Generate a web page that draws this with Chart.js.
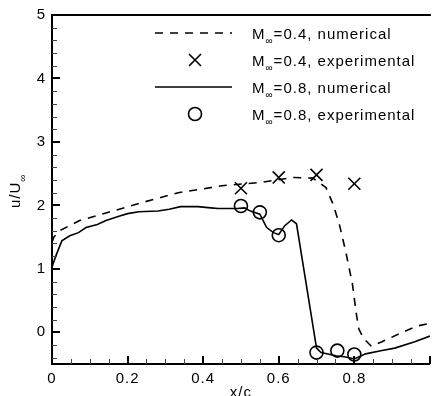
<!DOCTYPE html>
<html><head><meta charset="utf-8">
<script src="https://cdn.jsdelivr.net/npm/chart.js@4"></script>
<style>
html,body{margin:0;padding:0;overflow:hidden;background:#fff;width:432px;height:396px}
#wrap{width:440px;height:396px}
canvas{display:block}
</style></head>
<body><div id="wrap"><canvas id="c" width="440" height="396"></canvas></div>
<script>
// ---- data ----
const num04X = [0, 0.005, 0.02, 0.073, 0.143, 0.23, 0.334, 0.40, 0.45, 0.55, 0.64, 0.69, 0.725, 0.743, 0.76, 0.777, 0.795, 0.805, 0.812, 0.825, 0.845, 0.873, 0.924, 0.967, 1.0];
const num04Y = [1.42, 1.50, 1.60, 1.76, 1.88, 2.03, 2.20, 2.26, 2.31, 2.36, 2.44, 2.43, 2.28, 2.03, 1.71, 1.28, 0.76, 0.30, 0.05, -0.10, -0.22, -0.15, -0.01, 0.10, 0.14];

const num08X = [0, 0.01, 0.026, 0.047, 0.07, 0.09, 0.12, 0.143, 0.177, 0.20, 0.23, 0.28, 0.31, 0.34, 0.386, 0.42, 0.44, 0.49, 0.51, 0.525, 0.55, 0.568, 0.586, 0.60, 0.616, 0.634, 0.647, 0.70, 0.712, 0.751, 0.777, 0.80, 0.83, 0.87, 0.907, 0.96, 1.0];
const num08Y = [1.03, 1.20, 1.44, 1.52, 1.57, 1.65, 1.70, 1.76, 1.83, 1.87, 1.90, 1.91, 1.94, 1.98, 1.98, 1.96, 1.95, 1.95, 1.96, 1.91, 1.86, 1.65, 1.57, 1.54, 1.68, 1.77, 1.71, -0.25, -0.32, -0.37, -0.39, -0.42, -0.34, -0.29, -0.25, -0.15, -0.06];

const exp04X = [0.5, 0.6, 0.7, 0.8];
const exp04Y = [2.27, 2.44, 2.48, 2.34];

const exp08X = [0.5, 0.55, 0.6, 0.7, 0.755, 0.8];
const exp08Y = [1.99, 1.89, 1.53, -0.32, -0.29, -0.35];

const xMajorTicks = [0, 0.2, 0.4, 0.6, 0.8, 1.0];
const xTickLabels = ['0', '0.2', '0.4', '0.6', '0.8', ''];
const xMinorTicks = [0.05, 0.1, 0.15, 0.25, 0.3, 0.35, 0.45, 0.5, 0.55, 0.65, 0.7, 0.75, 0.85, 0.9, 0.95];
const yMajorTicks = [0, 1, 2, 3, 4, 5];
const yTickLabels = ['0', '1', '2', '3', '4', '5'];
const yMinorTicks = [-0.4, -0.2, 0.2, 0.4, 0.6, 0.8, 1.2, 1.4, 1.6, 1.8, 2.2, 2.4, 2.6, 2.8, 3.2, 3.4, 3.6, 3.8, 4.2, 4.4, 4.6, 4.8];

const legendLabels = ['=0.4, numerical', '=0.4, experimental', '=0.8, numerical', '=0.8, experimental'];
const xTitle = 'x/c';
const yTitle = 'u/U';

const FONT = '"Liberation Sans", Arial, Helvetica, sans-serif';
const pts = (xs, ys) => xs.map((x, i) => ({x: x, y: ys[i]}));

const decor = {
  id: 'decor',
  beforeDraw(chart) { chart.ctx.letterSpacing = '1px'; },
  afterDraw(chart) {
    const ctx = chart.ctx, a = chart.chartArea;
    const xs = chart.scales.x, ys = chart.scales.y;
    ctx.save();
    ctx.strokeStyle = '#000';
    ctx.fillStyle = '#000';
    // top frame
    ctx.lineWidth = 2;
    ctx.beginPath(); ctx.moveTo(a.left - 1, a.top); ctx.lineTo(a.right + 1, a.top); ctx.stroke();
    // major ticks (inward)
    ctx.lineWidth = 2;
    xMajorTicks.forEach(v => { const p = Math.round(xs.getPixelForValue(v)); ctx.beginPath(); ctx.moveTo(p, a.bottom); ctx.lineTo(p, a.bottom - 8); ctx.stroke(); });
    yMajorTicks.forEach(v => { const p = Math.round(ys.getPixelForValue(v)); ctx.beginPath(); ctx.moveTo(a.left, p); ctx.lineTo(a.left + 8, p); ctx.stroke(); });
    ctx.lineWidth = 1;
    ctx.strokeStyle = '#444';
    xMinorTicks.forEach(v => { const p = Math.round(xs.getPixelForValue(v)) + 0.5; ctx.beginPath(); ctx.moveTo(p, a.bottom); ctx.lineTo(p, a.bottom - 5); ctx.stroke(); });
    yMinorTicks.forEach(v => { const p = Math.round(ys.getPixelForValue(v)) + 0.5; ctx.beginPath(); ctx.moveTo(a.left, p); ctx.lineTo(a.left + 5, p); ctx.stroke(); });

    // axis titles
    ctx.fillStyle = '#000';
    ctx.font = '15px ' + FONT;
    ctx.textAlign = 'center'; ctx.textBaseline = 'alphabetic';
    ctx.fillText(xTitle, (a.left + a.right) / 2, 397);

    ctx.save();
    ctx.translate(19.5, 208);
    ctx.rotate(-Math.PI / 2);
    ctx.textAlign = 'left';
    ctx.font = '15px ' + FONT;
    ctx.fillText(yTitle, 0, 0);
    const w = ctx.measureText(yTitle).width;
    ctx.font = '10px ' + FONT;
    ctx.letterSpacing = '0px';
    ctx.fillText('\u221E', w, 6);
    ctx.restore();

    // legend
    const rows = [33, 60, 87, 114];
    const symL = 155, symR = 232, symC = 195, textX = 252;
    ctx.lineWidth = 1.6; ctx.strokeStyle = '#000';
    // row 0 dashed
    ctx.setLineDash([8, 7]);
    ctx.beginPath(); ctx.moveTo(symL, rows[0]); ctx.lineTo(symR, rows[0]); ctx.stroke();
    ctx.setLineDash([]);
    // row 1 cross
    const r = 6;
    ctx.beginPath(); ctx.moveTo(symC - r, rows[1] - r); ctx.lineTo(symC + r, rows[1] + r);
    ctx.moveTo(symC - r, rows[1] + r); ctx.lineTo(symC + r, rows[1] - r); ctx.stroke();
    // row 2 solid
    ctx.beginPath(); ctx.moveTo(symL, rows[2]); ctx.lineTo(symR, rows[2]); ctx.stroke();
    // row 3 circle
    ctx.beginPath(); ctx.arc(symC, rows[3], 6.5, 0, Math.PI * 2); ctx.stroke();

    ctx.textAlign = 'left'; ctx.textBaseline = 'alphabetic';
    rows.forEach((y, i) => {
      const base = y + 5.5;
      ctx.font = '15px ' + FONT; ctx.letterSpacing = '1px';
      ctx.fillText('M', textX, base);
      const mw = ctx.measureText('M').width;
      ctx.font = '10px ' + FONT; ctx.letterSpacing = '0px';
      ctx.fillText('\u221E', textX + mw, base + 5);
      const iw = ctx.measureText('\u221E').width;
      ctx.font = '15px ' + FONT; ctx.letterSpacing = '1px';
      ctx.fillText(legendLabels[i], textX + mw + iw + 1, base);
    });
    ctx.restore();
  }
};

const tickFont = {family: FONT, size: 15};

new Chart(document.getElementById('c').getContext('2d'), {
  type: 'line',
  data: {
    datasets: [
      {label: 'M=0.4, numerical', data: pts(num04X, num04Y), borderColor: '#000', borderWidth: 1.6, borderDash: [8, 7], pointRadius: 0, fill: false, tension: 0},
      {label: 'M=0.8, numerical', data: pts(num08X, num08Y), borderColor: '#000', borderWidth: 1.6, pointRadius: 0, fill: false, tension: 0},
      {label: 'M=0.4, experimental', data: pts(exp04X, exp04Y), showLine: false, pointStyle: 'crossRot', pointRadius: 8.5, borderColor: '#000', pointBorderWidth: 1.6, backgroundColor: 'rgba(0,0,0,0)'},
      {label: 'M=0.8, experimental', data: pts(exp08X, exp08Y), showLine: false, pointStyle: 'circle', pointRadius: 6.5, borderColor: '#000', pointBorderWidth: 1.6, backgroundColor: 'rgba(0,0,0,0)'}
    ]
  },
  options: {
    responsive: false, animation: false, events: [],
    layout: {padding: {left: 0, right: 4.5, top: 15, bottom: 0}},
    plugins: {legend: {display: false}, tooltip: {enabled: false}},
    scales: {
      x: {
        type: 'linear', min: 0, max: 1,
        afterBuildTicks(s) { s.ticks = xMajorTicks.map(v => ({value: v})); },
        afterFit(s) { s.height = 32; },
        ticks: {autoSkip: false, maxRotation: 0, padding: 6, color: '#000', font: tickFont,
          callback: (v) => xTickLabels[xMajorTicks.indexOf(v)] ?? ''},
        grid: {display: false, drawTicks: false},
        border: {display: true, color: '#000', width: 2}
      },
      y: {
        type: 'linear', min: -0.5, max: 5,
        afterBuildTicks(s) { s.ticks = yMajorTicks.map(v => ({value: v})); },
        afterFit(s) { s.width = 52; },
        ticks: {autoSkip: false, padding: 6, color: '#000', font: tickFont,
          callback: (v) => yTickLabels[yMajorTicks.indexOf(v)] ?? ''},
        grid: {display: false, drawTicks: false},
        border: {display: true, color: '#000', width: 2}
      }
    }
  },
  plugins: [decor]
});
</script>
</body></html>
